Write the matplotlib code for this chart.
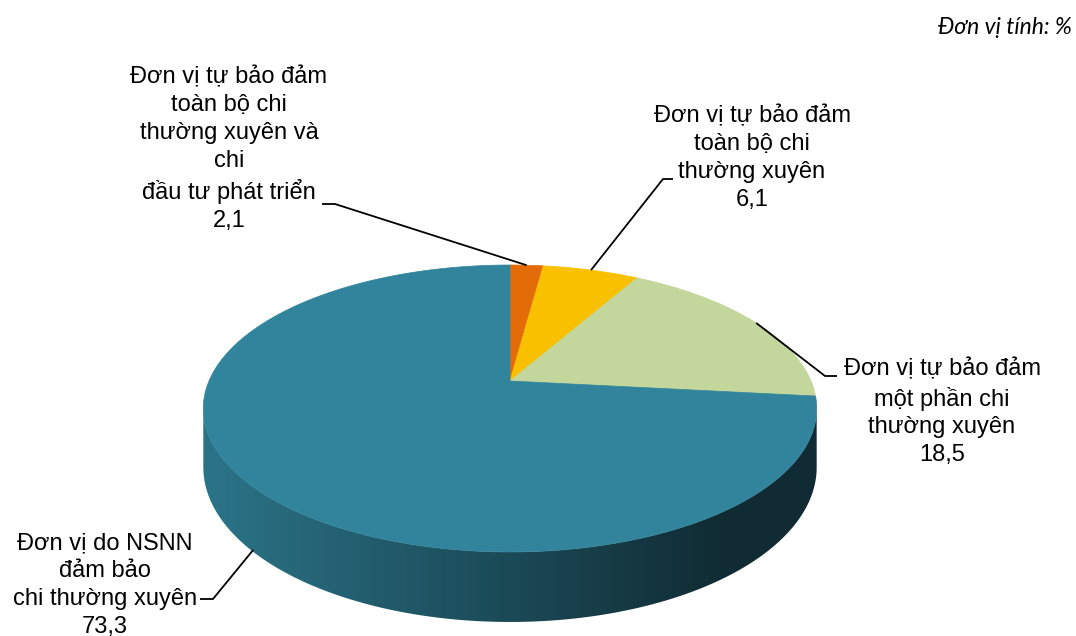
import numpy as np
import matplotlib

matplotlib.use("Agg")
import matplotlib.pyplot as plt
from matplotlib.patches import Polygon

labels = [
    "Đơn vị tự bảo đảm\ntoàn bộ chi\nthường xuyên và\nchi\nđầu tư phát triển",
    "Đơn vị tự bảo đảm\ntoàn bộ chi\nthường xuyên",
    "Đơn vị tự bảo đảm\nmột phần chi\nthường xuyên",
    "Đơn vị do NSNN\nđảm bảo\nchi thường xuyên",
]
values = [2.1, 6.1, 18.5, 73.3]
value_text = ["2,1", "6,1", "18,5", "73,3"]
colors = ["#E36C09", "#F9C000", "#C3D69B", "#31849B"]
unit_text = "Đơn vị tính: %"

# pie geometry in pixel space (simple perspective)
CX, CY = 510, 381
A, B, K = 301, 138.2, 0.1916
H = 56.6


def proj(theta_deg, drop=0.0):
    t = np.radians(theta_deg)
    u, v = np.cos(t), np.sin(t)
    den = 1 + K * v
    return CX + A * u / den, CY - B * v / den + drop * H / den


fig = plt.figure(figsize=(10.76, 6.36), dpi=100)
ax = fig.add_axes([0, 0, 1, 1])
ax.set_xlim(0, 1076)
ax.set_ylim(636, 0)
ax.axis("off")

fracs = np.array(values) / sum(values)
starts = 90 - 360 * np.concatenate([[0], np.cumsum(fracs)[:-1]])
ends = starts - 360 * fracs

# side wall (front half) - only the last slice is visible there
sil_left = 180 + np.degrees(np.arcsin(K))
sil_right = 360 - np.degrees(np.arcsin(K))
th = np.linspace(sil_left, sil_right, 300)
top = [proj(t) for t in th]
bottom = [proj(t, 1) for t in th[::-1]]
side = Polygon(top + bottom, closed=True, facecolor="none", edgecolor="none")
ax.add_patch(side)

x0, x1 = top[0][0], top[-1][0]
pos = np.linspace(0, 1, 400)
fac = 0.88 - 0.55 * np.minimum(pos / 0.85, 1.0)
base = np.array(matplotlib.colors.to_rgb(colors[-1]))
grad = (fac[:, None] * base[None, :])[None, :, :]
img = ax.imshow(grad, extent=(x0, x1, 630, 390), aspect="auto",
                interpolation="bilinear", zorder=1)
img.set_clip_path(side)

# top faces
for s, e, c in zip(starts, ends, colors):
    tt = np.linspace(s, e, max(int(abs(s - e)) * 2, 4))
    pts = [(CX, CY)] + [proj(t) for t in tt]
    ax.add_patch(Polygon(pts, closed=True, facecolor=c, edgecolor=c,
                         lw=0.5, zorder=2))

# labels with leader lines
label_pos = [(229, 149), (752, 158), (942, 412), (105, 585)]
leader_start = [(322, 204), (673, 179), (837, 376), (200, 599)]
leader_knee = [(335, 204), (663, 179), (825, 376), (213, 599)]
leader_drop = [0, 0, 0, 0.97]
font = ["Liberation Sans", "DejaVu Sans"]
for i in range(len(values)):
    mid = (starts[i] + ends[i]) / 2
    px, py = proj(mid, leader_drop[i])
    xs = [leader_start[i][0], leader_knee[i][0], px]
    ys = [leader_start[i][1], leader_knee[i][1], py]
    ax.plot(xs, ys, color="black", lw=1.3, solid_capstyle="butt", zorder=3)
    ax.text(label_pos[i][0], label_pos[i][1], labels[i] + "\n" + value_text[i],
            ha="center", va="center", fontsize=17, linespacing=1.34,
            family=font, color="black", zorder=4)

ax.text(1072, 27, unit_text, ha="right", va="center", fontsize=16.5,
        style="italic", family=["Lato", "DejaVu Sans"], color="black")

fig.savefig("out.png", dpi=100)
